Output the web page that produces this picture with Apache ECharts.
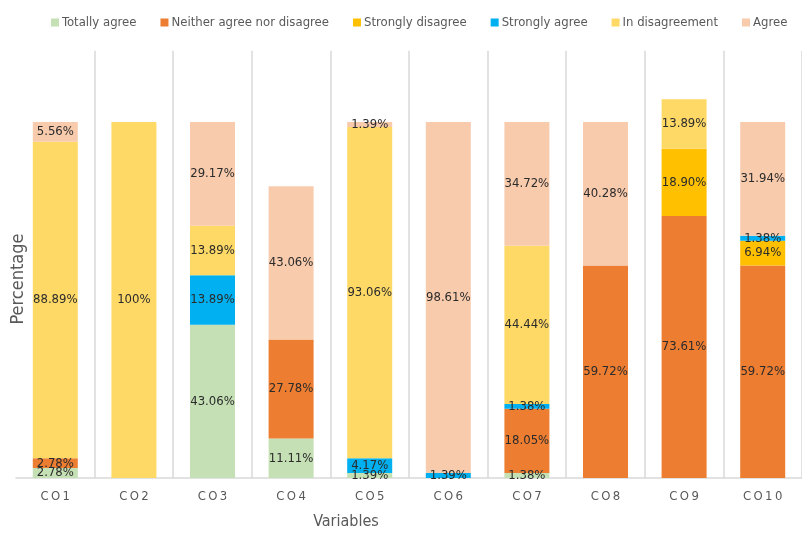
<!DOCTYPE html>
<html>
<head>
<meta charset="utf-8">
<script src="https://cdn.jsdelivr.net/npm/echarts@6/dist/echarts.min.js"></script>
<style>
  html, body { margin: 0; padding: 0; background: #fff; }
  #chart { width: 802px; height: 534px; }
</style>
</head>
<body>
<div id="chart"></div>
<script>
// Response shares per variable (percent); null where a response is absent
const categories = ['CO1', 'CO2', 'CO3', 'CO4', 'CO5', 'CO6', 'CO7', 'CO8', 'CO9', 'CO10'];

const totallyAgree     = [2.78, null, 43.06, 11.11, 1.39, null, 1.38, null, null, null];
const neitherAgree     = [2.78, null, null, 27.78, null, null, 18.05, 59.72, 73.61, 59.72];
const stronglyDisagree = [null, null, null, null, null, null, null, null, 18.90, 6.94];
const stronglyAgree    = [null, null, 13.89, null, 4.17, 1.39, 1.38, null, null, 1.38];
const inDisagreement   = [88.89, 100, 13.89, null, 93.06, null, 44.44, null, 13.89, null];
const agree            = [5.56, null, 29.17, 43.06, 1.39, 98.61, 34.72, 40.28, null, 31.94];

const seriesDefs = [
  { name: 'Totally agree', data: totallyAgree, color: '#C5E0B4' },
  { name: 'Neither agree nor disagree', data: neitherAgree, color: '#ED7D31' },
  { name: 'Strongly disagree', data: stronglyDisagree, color: '#FFC000' },
  { name: 'Strongly agree', data: stronglyAgree, color: '#00B0F0' },
  { name: 'In disagreement', data: inDisagreement, color: '#FFD966' },
  { name: 'Agree', data: agree, color: '#F8CBAD' }
];

const FONT = "'Liberation Sans Narrow', 'DejaVu Sans Condensed', Roboto, sans-serif";

// spaced-out axis labels, e.g. "C O 1"
const spaced = s => s.split('').join('\u2009');
const pct = v => (Number.isInteger(v) ? String(v) : v.toFixed(2)) + '%';

const chart = echarts.init(document.getElementById('chart'), null, { renderer: 'canvas' });

chart.setOption({
  animation: false,
  backgroundColor: '#ffffff',
  textStyle: { fontFamily: FONT },
  legend: {
    top: 11,
    left: 46,
    width: 756,
    itemWidth: 8,
    itemHeight: 8,
    itemGap: 24,
    icon: 'rect',
    textStyle: { fontFamily: FONT, fontSize: 13, color: '#595959', padding: [0, 0, 0, -2] },
    data: seriesDefs.map(s => s.name)
  },
  grid: { left: 16, right: -14, top: 50.8, bottom: 56 },
  xAxis: {
    type: 'category',
    data: categories,
    axisLine: { lineStyle: { color: '#D9D9D9', width: 1.5 } },
    axisTick: { show: false },
    splitLine: {
      show: true,
      // no separator on the outer left edge
      interval: idx => idx !== 0,
      lineStyle: { color: '#D9D9D9', width: 1.5 }
    },
    axisLabel: {
      color: '#595959',
      fontSize: 13,
      fontFamily: FONT,
      margin: 12,
      formatter: v => spaced(v)
    }
  },
  yAxis: {
    type: 'value',
    min: 0,
    max: 120,
    show: false,
    splitLine: { show: false }
  },
  graphic: [
    {
      type: 'text',
      x: 346, y: 522,
      style: { text: 'Variables', fill: '#595959', font: '16px ' + FONT, textAlign: 'center', textVerticalAlign: 'middle' }
    },
    {
      type: 'text',
      x: 18, y: 279,
      rotation: Math.PI / 2,
      style: { text: 'Percentage', fill: '#595959', font: '18px ' + FONT, textAlign: 'center', textVerticalAlign: 'middle' }
    }
  ],
  series: seriesDefs.map(s => ({
    name: s.name,
    type: 'bar',
    stack: 'total',
    barWidth: 45,
    data: s.data,
    itemStyle: { color: s.color },
    label: {
      show: true,
      position: 'inside',
      color: '#2b2b2b',
      fontSize: 13,
      fontFamily: FONT,
      formatter: p => p.value == null ? '' : pct(p.value)
    }
  }))
});
</script>
</body>
</html>
